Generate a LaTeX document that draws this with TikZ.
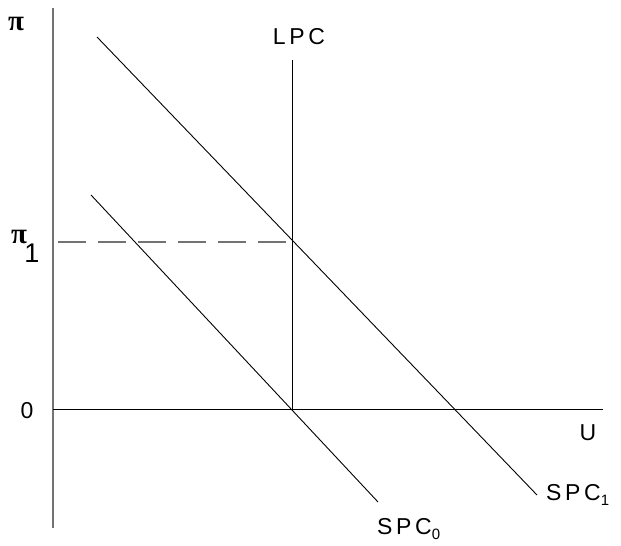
\documentclass[tikz,border=0pt]{standalone}
\usepackage{fontspec}
\setmainfont{Liberation Sans}[LetterSpace=16]
\newfontfamily\pifont{Liberation Serif}
\begin{document}
\begin{tikzpicture}[x=1pt,y=1pt,
  lab/.style={inner sep=0pt,font=\fontsize{23}{25}\selectfont},
  pisym/.style={inner sep=0pt,font=\pifont\bfseries\fontsize{29}{31}\selectfont},
  curve/.style={draw=black,line width=0.9pt},
  axisy/.style={draw=black!55,line width=1.4pt},
  axisx/.style={draw=black,line width=1pt},
  guide/.style={draw=black!55,line width=1.4pt,dash pattern=on 28pt off 12pt}]
\useasboundingbox (0,0) rectangle (621,546);
% axes
\coordinate (ytop) at (53,538);
\coordinate (ybot) at (53,18);
\coordinate (xl) at (53,136);
\coordinate (xr) at (603,136);
\draw[axisy] (ybot) -- (ytop);
\draw[axisx] (xl) -- (xr);
% LPC
\coordinate (lpctop) at (292,486);
\coordinate (lpcbot) at (292,136);
\draw[curve] (lpcbot) -- (lpctop);
% SPC curves
\coordinate (s1a) at (97,509);
\coordinate (s1b) at (537,51);
\coordinate (s0a) at (91,351);
\coordinate (s0b) at (378,44);
\draw[curve] (s1a) -- (s1b);
\draw[curve] (s0a) -- (s0b);
% dashed guide
\coordinate (pi1y) at (58,304);
\coordinate (pi1x) at (290,304);
\draw[guide] (pi1y) -- (pi1x);
% labels
\node[pisym] (pi) at (16,522) {π};
\node[pisym] (pione) at (19,309) {π};
\node[lab,font=\fontsize{27}{29}\selectfont] (one) at (32,293) {1};
\node[lab] (zero) at (27,135) {0};
\node[lab] (lpc) at (299,509) {LPC};
\node[lab] (u) at (588,113) {U};
\node[lab,anchor=west] (spc1) at (546,51) {SPC\raisebox{-5pt}{\fontsize{15}{16}\selectfont 1}};
\node[lab,anchor=west] (spc0) at (377,17) {SPC\raisebox{-5pt}{\fontsize{15}{16}\selectfont 0}};
\end{tikzpicture}
\end{document}
